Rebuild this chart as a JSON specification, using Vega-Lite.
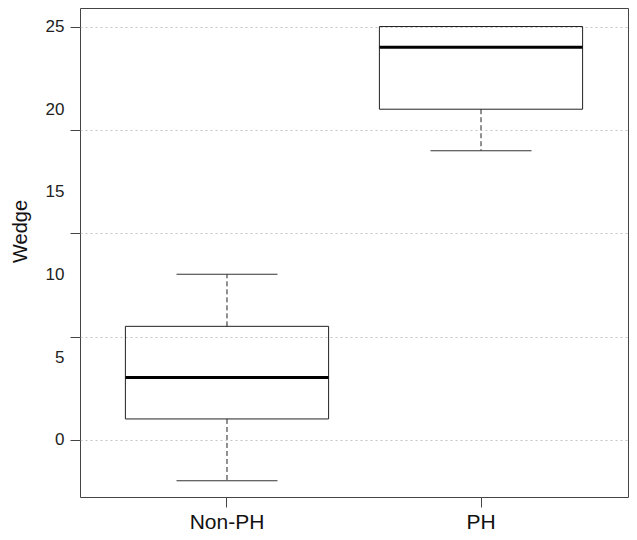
{
  "$schema": "https://vega.github.io/schema/vega-lite/v6.json",
  "width": 548,
  "height": 489,
  "autosize": {"type": "none"},
  "padding": {"left": 80, "top": 8, "right": 9, "bottom": 43},
  "background": "white",
  "config": {"view": {"stroke": "#444", "strokeWidth": 1}, "font": "Liberation Sans"},
  "data": {"values": [
    {"group": "Non-PH", "lower": -2.46, "q1": 1.27, "median": 3.77, "q3": 6.87, "upper": 10.02},
    {"group": "PH", "lower": 17.49, "q1": 20.0, "median": 23.74, "q3": 25.0, "upper": 25.0}
  ]},
  "encoding": {
    "x": {
      "field": "group", "type": "nominal", "sort": ["Non-PH", "PH"],
      "scale": {"type": "band", "paddingInner": 0.2, "paddingOuter": 0.1787},
      "axis": {"title": null, "domain": false, "ticks": true, "tickSize": 10, "tickColor": "#444", "labelFontSize": 21, "labelColor": "#111", "labelPadding": 4, "labelAngle": 0, "grid": false}
    }
  },
  "layer": [
    {
      "mark": {"type": "rule", "strokeDash": [5, 3], "color": "#222"},
      "encoding": {
        "y": {"field": "q3", "type": "quantitative", "scale": {"domain": [-3.45, 26.12], "nice": false, "zero": false},
          "axis": {"orient": "left", "title": "Wedge", "titleFontSize": 20, "titleFontWeight": "normal", "titleColor": "#111", "titlePadding": 15, "titleY": 223,
            "values": [0, 5, 10, 15, 20, 25], "ticks": false, "labelPadding": 16, "labelFontSize": 17, "labelColor": "#222", "grid": false, "domain": false}},
        "y2": {"field": "upper"}
      }
    },
    {
      "mark": {"type": "rule", "strokeDash": [5, 3], "color": "#222"},
      "encoding": {
        "y": {"field": "q1", "type": "quantitative", "scale": {"domain": [-3.45, 26.12], "nice": false, "zero": false},
          "axis": {"orient": "left", "values": [0, 6.25, 12.5, 18.75, 25], "labels": false, "ticks": true, "tickSize": 10, "tickColor": "#444",
            "grid": true, "gridColor": "#c4c4c4", "gridDash": [2, 3], "domain": false, "title": null}},
        "y2": {"field": "lower"}
      }
    },
    {
      "mark": {"type": "tick", "size": 101, "thickness": 1, "color": "#333", "opacity": 1},
      "encoding": {"y": {"field": "lower", "type": "quantitative", "scale": {"domain": [-3.45, 26.12], "nice": false, "zero": false}, "axis": null}}
    },
    {
      "mark": {"type": "tick", "size": 101, "thickness": 1, "color": "#333", "opacity": 1},
      "encoding": {"y": {"field": "upper", "type": "quantitative", "scale": {"domain": [-3.45, 26.12], "nice": false, "zero": false}, "axis": null}}
    },
    {
      "mark": {"type": "bar", "filled": false, "stroke": "#222", "strokeWidth": 1, "opacity": 1},
      "encoding": {
        "y": {"field": "q1", "type": "quantitative", "scale": {"domain": [-3.45, 26.12], "nice": false, "zero": false}, "axis": null},
        "y2": {"field": "q3"}
      }
    },
    {
      "mark": {"type": "tick", "size": 203, "thickness": 3, "color": "#000", "opacity": 1},
      "encoding": {"y": {"field": "median", "type": "quantitative", "scale": {"domain": [-3.45, 26.12], "nice": false, "zero": false}, "axis": null}}
    }
  ],
  "resolve": {"axis": {"y": "independent"}}
}
